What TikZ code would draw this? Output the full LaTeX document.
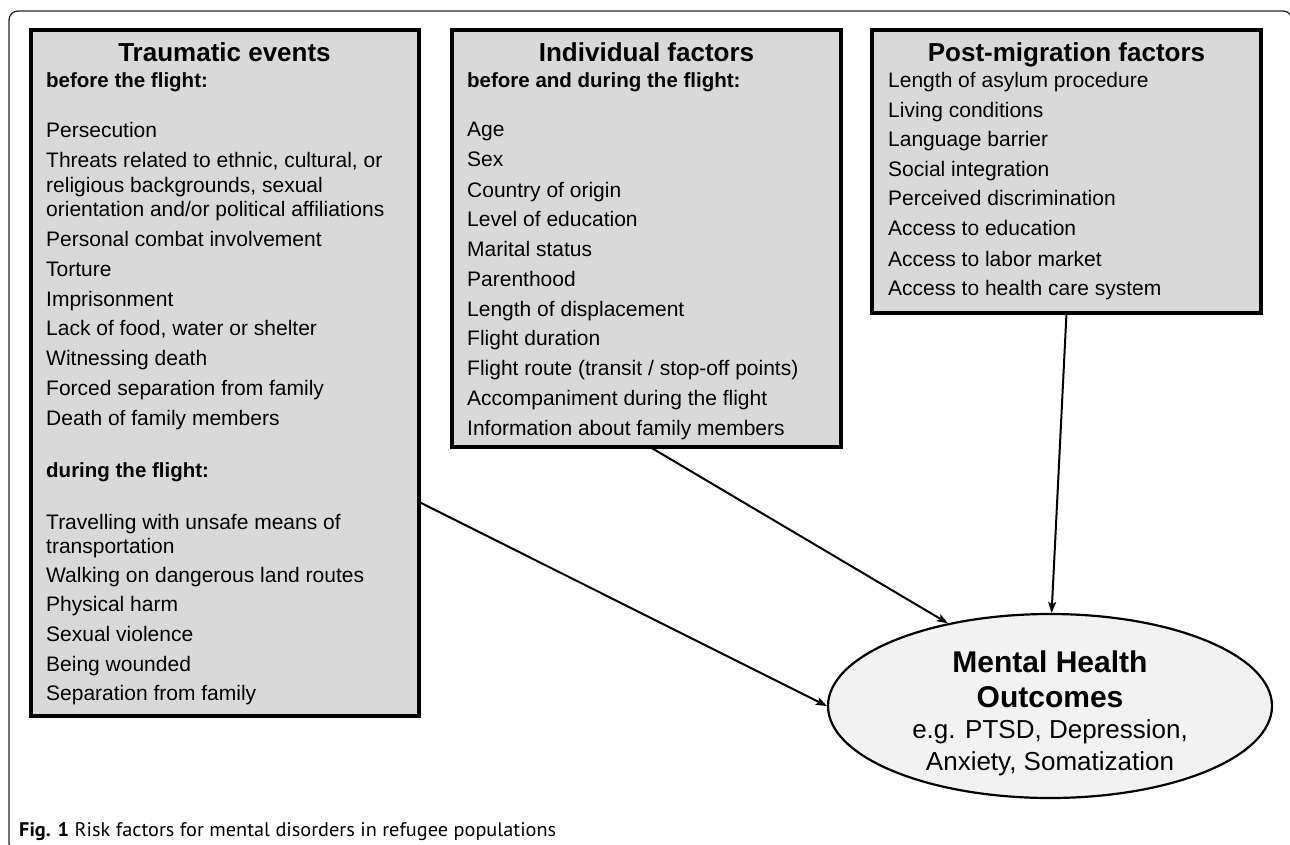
\documentclass[tikz,border=0pt]{standalone}
\usepackage{fontspec}
\usepackage{graphicx}
\setmainfont{Liberation Sans}
\newfontfamily\capfont{PT Sans}
\usetikzlibrary{arrows.meta,shapes.geometric,calc}
\definecolor{boxgray}{RGB}{217,217,217}
\definecolor{ellgray}{RGB}{242,242,242}
\begin{document}
\begin{tikzpicture}[x=1pt,y=-1pt,
  factorbox/.style={draw=black, line width=3.2pt, fill=boxgray, inner sep=0pt, outer sep=0pt, anchor=north west},
  txt/.style={anchor=base west, inner sep=0pt, font=\fontsize{21}{25}\selectfont},
  hd/.style={anchor=base, inner sep=0pt, font=\fontsize{26}{30}\selectfont\bfseries},
  sub/.style={anchor=base west, inner sep=0pt, font=\fontsize{20.5}{24}\selectfont\bfseries},
  elltitle/.style={anchor=base, inner sep=0pt, font=\fontsize{30}{34}\selectfont\bfseries},
  elltxt/.style={anchor=base, inner sep=0pt, font=\fontsize{26}{30}\selectfont},
  arr/.style={line width=2pt, draw=black, -{Stealth[length=11pt,width=8pt,inset=2.5pt]}}]
\useasboundingbox (0,0) rectangle (1290,845);
\clip (0,0) rectangle (1290,845);
\fill[white] (0,0) rectangle (1290,845);
% outer frame
\draw[line width=1.3pt, black!85, rounded corners=9pt] (9,11) rectangle (1292,852);

% boxes
\node[factorbox, minimum width=388pt, minimum height=686pt] (b1) at (31,30) {};
\node[factorbox, minimum width=389pt, minimum height=417pt] (b2) at (452,30) {};
\node[factorbox, minimum width=389pt, minimum height=283pt] (b3) at (872,30) {};

% ellipse
\node[ellipse, draw=black, line width=2.2pt, fill=ellgray, minimum width=444pt, minimum height=184pt, inner sep=0pt] (ell) at (1050,706) {};

% box 1 text
\node[hd] (t1h) at (224.5,62) {Traumatic events};
\node[sub] (t1s) at (46,88) {before the flight:};
\node[txt] (t1a) at (46,138) {Persecution};
\node[txt] (t1b) at (46,168) {Threats related to ethnic, cultural, or};
\node[txt] (t1c) at (46,193) {religious backgrounds, sexual};
\node[txt] (t1d) at (46,217) {orientation and/or political affiliations};
\node[txt] (t1e) at (46,247) {Personal combat involvement};
\node[txt] (t1f) at (46,276) {Torture};
\node[txt] (t1g) at (46,306) {Imprisonment};
\node[txt] (t1i) at (46,335) {Lack of food, water or shelter};
\node[txt] (t1j) at (46,365) {Witnessing death};
\node[txt] (t1k) at (46,395) {Forced separation from family};
\node[txt] (t1l) at (46,425) {Death of family members};
\node[sub] (t1m) at (46,477) {during the flight:};
\node[txt] (t1n) at (46,529) {Travelling with unsafe means of};
\node[txt] (t1o) at (46,553) {transportation};
\node[txt] (t1p) at (46,582) {Walking on dangerous land routes};
\node[txt] (t1q) at (46,611) {Physical harm};
\node[txt] (t1r) at (46,641) {Sexual violence};
\node[txt] (t1t) at (46,671) {Being wounded};
\node[txt] (t1u) at (46,700) {Separation from family};

% box 2 text
\node[hd] (t2h) at (646.5,62) {Individual factors};
\node[sub] (t2s) at (467,88) {before and during the flight:};
\node[txt] (t2a) at (467,137) {Age};
\node[txt] (t2b) at (467,167) {Sex};
\node[txt] (t2c) at (467,197) {Country of origin};
\node[txt] (t2d) at (467,226) {Level of education};
\node[txt] (t2e) at (467,256) {Marital status};
\node[txt] (t2f) at (467,286) {Parenthood};
\node[txt] (t2g) at (467,316) {Length of displacement};
\node[txt] (t2i) at (467,345) {Flight duration};
\node[txt] (t2j) at (467,375) {Flight route (transit / stop-off points)};
\node[txt] (t2k) at (467,405) {Accompaniment during the flight};
\node[txt] (t2l) at (467,435) {Information about family members};

% box 3 text
\node[hd] (t3h) at (1066.5,62) {Post-migration factors};
\node[txt] (t3a) at (888,88) {Length of asylum procedure};
\node[txt] (t3b) at (888,118) {Living conditions};
\node[txt] (t3c) at (888,147) {Language barrier};
\node[txt] (t3d) at (888,177) {Social integration};
\node[txt] (t3e) at (888,206) {Perceived discrimination};
\node[txt] (t3f) at (888,236) {Access to education};
\node[txt] (t3g) at (888,266) {Access to labor market};
\node[txt] (t3i) at (888,295) {Access to health care system};

% ellipse text
\node[elltitle] (e1) at (1050,672) {Mental Health};
\node[elltitle] (e2) at (1050,707) {Outcomes};
\node[elltxt] (e3) at (1050,738) {e.g. PTSD, Depression,};
\node[elltxt] (e4) at (1050,770) {Anxiety, Somatization};

% arrows
\draw[arr] ($(b1.north east)!0.688!(b1.south east)$) -- (ell.180);
\draw[arr] ($(b2.south west)!0.509!(b2.south east)$) -- (ell.141);
\draw[arr] (b3.south) -- (ell.89);

% caption
\node[anchor=base west, inner sep=0pt] (cap) at (19,836) {\resizebox{537pt}{14pt}{\capfont\textbf{Fig. 1} Risk factors for mental disorders in refugee populations}};
\end{tikzpicture}
\end{document}
